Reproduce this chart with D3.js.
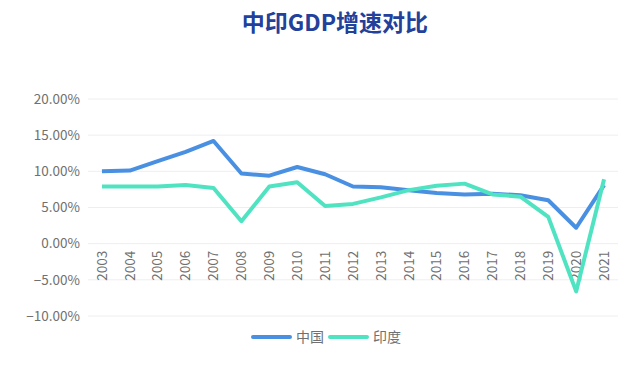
<html>
<head>
<meta charset="utf-8">
<script src="https://d3js.org/d3.v7.min.js"></script>
<style>
  body { margin: 0; background: #fff; }
  text { font-family: "Noto Sans CJK SC", "Noto Sans", sans-serif; }
</style>
</head>
<body>
<div id="chart_area"></div>
<script>

var years = ["2003","2004","2005","2006","2007","2008","2009","2010","2011","2012",
             "2013","2014","2015","2016","2017","2018","2019","2020","2021"];
var china = [10.0,10.1,11.4,12.7,14.2,9.7,9.4,10.6,9.6,7.9,7.8,7.4,7.0,6.8,6.9,6.7,6.0,2.2,8.1];
var india = [7.9,7.9,7.9,8.1,7.7,3.1,7.9,8.5,5.2,5.5,6.4,7.4,8.0,8.3,6.8,6.5,3.7,-6.6,8.9];
var yTicks = [-10,-5,0,5,10,15,20];
var seriesNames = ["中国","印度"];
var colors = {"中国":"#4a90e2","印度":"#50e3c2"};

var width = 636, height = 366;
var margin = {top: 99, right: 18, bottom: 50, left: 88};

var svg = d3.select("#chart_area").append("svg")
    .attr("width", width).attr("height", height);

// title
svg.append("text")
    .attr("x", 335).attr("y", 31)
    .attr("text-anchor", "middle")
    .style("font-size", "23px").style("font-weight", "bold")
    .attr("fill", "#23409a")
    .text("中印GDP增速对比");

var x = d3.scaleBand().domain(years).range([margin.left, width - margin.right]);
var y = d3.scaleLinear().domain([-10, 20]).range([height - margin.bottom, margin.top]);

// grid lines
svg.append("g").selectAll("line").data(yTicks).enter().append("line")
    .attr("x1", margin.left).attr("x2", width - margin.right)
    .attr("y1", d => y(d)).attr("y2", d => y(d))
    .attr("stroke", "#eeeeee").attr("stroke-width", 1);

// y labels
svg.append("g").selectAll("text").data(yTicks).enter().append("text")
    .attr("x", margin.left - 8).attr("y", d => y(d)).attr("dy", "0.35em")
    .attr("text-anchor", "end")
    .attr("fill", "#707070").style("font-size", "13.5px")
    .text(d => d3.format(".2f")(d) + "%");

// x labels, rotated, below the 0 line
svg.append("g").selectAll("text").data(years).enter().append("text")
    .attr("transform", d => "translate(" + (x(d) + x.bandwidth() / 2) + "," + (y(0) + 7) + ") rotate(-90)")
    .attr("dy", "0.35em")
    .attr("text-anchor", "end")
    .attr("fill", "#707070").style("font-size", "13.5px")
    .text(d => d);

var line = d3.line()
    .x((d, i) => x(years[i]) + x.bandwidth() / 2)
    .y(d => y(d));

[[china, "中国"], [india, "印度"]].forEach(function(s) {
  svg.append("path")
      .datum(s[0])
      .attr("fill", "none")
      .attr("stroke", colors[s[1]])
      .attr("stroke-width", 4)
      .attr("stroke-linejoin", "round")
      .attr("d", line);
});

// legend
var legend = svg.append("g").attr("transform", "translate(253,337)");
seriesNames.forEach(function(n, i) {
  var g = legend.append("g").attr("transform", "translate(" + (i * 77) + ",0)");
  g.append("line").attr("x1", 0).attr("x2", 37).attr("y1", 0).attr("y2", 0)
      .attr("stroke", colors[n]).attr("stroke-width", 4).attr("stroke-linecap", "round");
  g.append("text").attr("x", 43).attr("dy", "0.35em")
      .attr("fill", "#707070").style("font-size", "14px").text(n);
});

</script>
</body>
</html>
